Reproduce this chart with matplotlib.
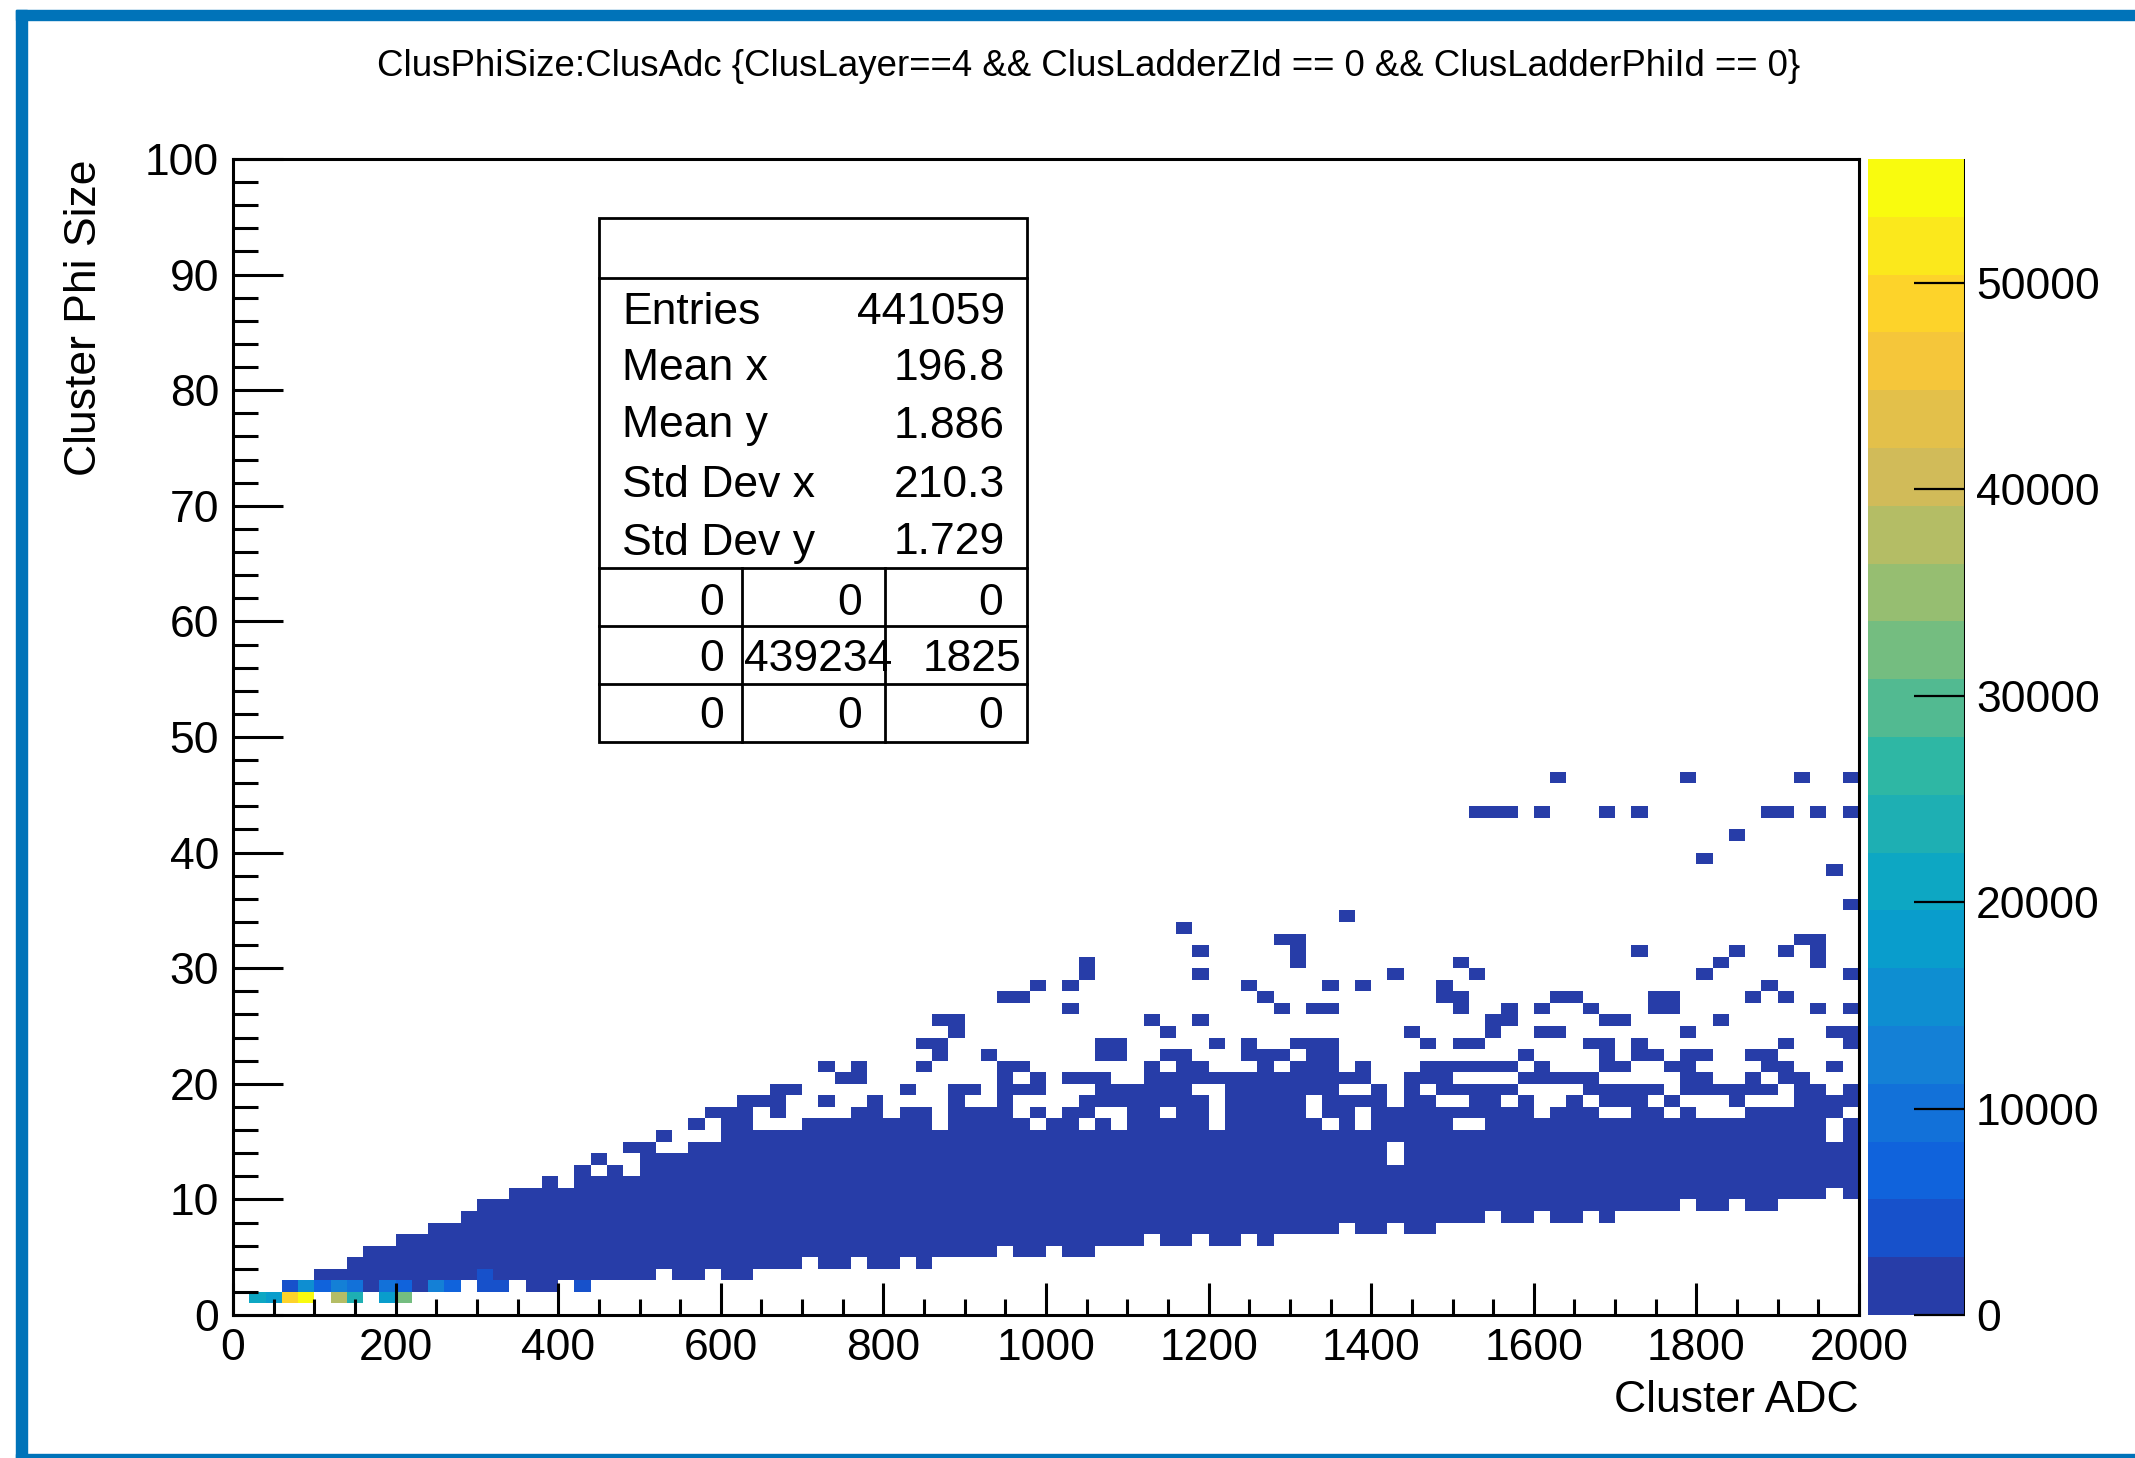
import numpy as np
import matplotlib
matplotlib.use("Agg")
import matplotlib.pyplot as plt
from matplotlib.colors import ListedColormap, BoundaryNorm, LinearSegmentedColormap
from matplotlib.patches import Rectangle
from matplotlib.lines import Line2D
from matplotlib.ticker import MultipleLocator, FuncFormatter

plt.rcParams["font.family"] = ["Liberation Sans", "DejaVu Sans"]

# ---------------------------------------------------------------- data
title = "ClusPhiSize:ClusAdc {ClusLayer==4 && ClusLadderZId == 0 && ClusLadderPhiId == 0}"
x_label = "Cluster ADC"
y_label = "Cluster Phi Size"

n_adc_bins, adc_min, adc_max = 100, 0, 2000
n_phi_bins, phi_min, phi_max = 100, 0, 100

# Occupied phi-size rows for every ADC bin (row index = phi-size bin)
occupied_rows = [
    "", "1", "1", "1-2", "1-2", "2-3", "1-3", "1-4", "2-5", "1-5",
    "1-6", "2-6", "2-7", "2-7", "3-8", "2-9", "2-9", "3-10", "2-10", "2-11",
    "3-10", "2-12", "3-11,13", "3-12", "3-11,14", "3-14", "4-13,15", "3-13", "3-14,16", "4-14,17",
    "3-17", "3-18", "4-15,18", "4-15,17-19", "4-15,19", "5-16", "4-16,18,21", "4-16,20", "5-17,20-21", "4-18",
    "4-16", "5-17,19", "4-17,21,23", "5-15,22-23,25", "5-19,24-25", "5-17,19", "5-17,22", "6-21,27", "5-16,19,21,27", "5-15,17,19-20,28",
    "6-16", "5-17,20,26,28", "5-15,17-18,20,29-30", "6-16,18-20,22-23", "6-15,18-19,22-23", "6-19", "7-21,25", "6-16,18-20,22,24", "6-22,33", "7-18,20-21,25,29,31",
    "6-15,20,23", "6-20", "7-20,22-23,28", "6-22,27", "7-20,22,26,32", "7-21,23,30-32", "7-16,19-23,26", "7-15,17-23,26,28", "8-18,20,34", "7-15,18,20-21,28",
    "7-19", "8-12,15-17,29", "7-20,24", "7-18,20-21,23", "8-17,19-21,27-28", "8-15,17,19,21,23,26-27,30", "8-15,17-19,21,23,29,43", "9-19,21,24-25,43", "8-17,19,21,25-26,43", "8-18,20,22",
    "9-16,20-21,24,26,43", "8-17,20,24,27,46", "8-18,20,27", "9-17,19-20,23,26", "8-16,18-19,21-23,25,43", "9-16,18-19,21,25", "9-19,22-23,31,43", "9-17,19,22,26-27", "9-16,18,21,26-27", "10-17,19-22,24,46",
    "9-16,19-20,22,29,39", "9-16,19,25,30", "10-16,18-19,31,41", "9-17,19-20,22,27", "9-17,19,21-22,28,43", "10-17,20-21,23,27,31,43", "10-20,32,46", "10-19,26,30-32,43", "11-14,17-18,21,24,38", "10-16,18-19,23-24,26,29,35,43,46",
]

# Bins whose content is above the lowest palette step
hot_adc_bin = [1, 2, 3, 4, 6, 7, 9, 10,
               3, 4, 5, 6, 7, 8, 9, 10, 11, 12, 13, 15, 16, 18, 19, 21,
               15]
hot_phi_row = [1, 1, 1, 1, 1, 1, 1, 1,
               2, 2, 2, 2, 2, 2, 2, 2, 2, 2, 2, 2, 2, 2, 2, 2,
               3]
hot_count = [21000, 18000, 49000, 56000, 37500, 25000, 19000, 32000,
             4000, 15000, 7000, 12000, 9500, 2000, 9000, 7000, 2000, 12500, 7500, 4500, 4000, 1500, 1500, 3500,
             3000]
low_count = 200  # occupied bins in the first palette step

# Statistics box
stat_names = ["Entries", "Mean x", "Mean y", "Std Dev x", "Std Dev y"]
stat_values = ["441059", "196.8", "1.886", "210.3", "1.729"]
under_overflow = [["0", "0", "0"], ["0", "439234", "1825"], ["0", "0", "0"]]

z_ticks = [0, 10000, 20000, 30000, 40000, 50000]
n_contours = 20

# ---------------------------------------------------------------- histogram
def parse_rows(spec):
    rows = []
    for part in spec.split(","):
        part = part.strip()
        if not part:
            continue
        if "-" in part:
            a, b = part.split("-")
            rows.extend(range(int(a), int(b) + 1))
        else:
            rows.append(int(part))
    return rows

counts = np.zeros((n_phi_bins, n_adc_bins))
for ix, spec in enumerate(occupied_rows):
    for iy in parse_rows(spec):
        counts[iy, ix] = low_count
for ix, iy, c in zip(hot_adc_bin, hot_phi_row, hot_count):
    counts[iy, ix] = c

adc_edges = np.linspace(adc_min, adc_max, n_adc_bins + 1)
phi_edges = np.linspace(phi_min, phi_max, n_phi_bins + 1)

# ROOT kBird palette, sampled at the contour levels
stops = [0.0, 0.125, 0.25, 0.375, 0.5, 0.625, 0.75, 0.875, 1.0]
red = [0.2082, 0.0592, 0.0780, 0.0232, 0.1802, 0.5301, 0.8186, 0.9956, 0.9764]
green = [0.1664, 0.3599, 0.5041, 0.6419, 0.7178, 0.7492, 0.7328, 0.7862, 0.9832]
blue = [0.5293, 0.8684, 0.8385, 0.7914, 0.6425, 0.4662, 0.3499, 0.1968, 0.0539]
bird = LinearSegmentedColormap.from_list(
    "bird", list(zip(stops, zip(red, green, blue))), N=255)
level_colors = [bird(int((i + 0.99) * 255 / n_contours) / 254.0) for i in range(n_contours)]
cmap = ListedColormap(level_colors)
cmap.set_bad("white")
zmax = counts.max()
norm = BoundaryNorm(np.linspace(0, zmax, n_contours + 1), n_contours)

# ---------------------------------------------------------------- figure
W, H = 2135, 1458
fig = plt.figure(figsize=(W / 100, H / 100), dpi=100)


def fx(px):
    return px / W


def fy(py):
    return 1 - py / H


# canvas frame
frame_col = "#0073b9"
fig.patches.append(Rectangle((fx(16), fy(1458)), fx(11), fy(10) - fy(1458),
                             transform=fig.transFigure, color=frame_col, zorder=0))
fig.patches.append(Rectangle((fx(16), fy(20)), 1, fy(10) - fy(20),
                             transform=fig.transFigure, color=frame_col, zorder=0))
fig.patches.append(Rectangle((fx(16), 0), 1, fy(1454),
                             transform=fig.transFigure, color=frame_col, zorder=0))

ax_l, ax_r, ax_t, ax_b = 233, 1859, 159, 1315
ax = fig.add_axes([fx(ax_l), fy(ax_b), fx(ax_r) - fx(ax_l), fy(ax_t) - fy(ax_b)])
mesh = ax.pcolormesh(adc_edges, phi_edges, np.ma.masked_equal(counts, 0),
                     cmap=cmap, norm=norm, antialiased=False, linewidth=0)
ax.set_xlim(adc_min, adc_max)
ax.set_ylim(phi_min, phi_max)

fs = 32
ax.xaxis.set_major_locator(MultipleLocator(200))
ax.xaxis.set_minor_locator(MultipleLocator(50))
ax.yaxis.set_major_locator(MultipleLocator(10))
ax.yaxis.set_minor_locator(MultipleLocator(2))
ax.tick_params(axis="x", which="major", direction="in", length=23, width=2.2,
               labelsize=fs, pad=9, top=False)
ax.tick_params(axis="x", which="minor", direction="in", length=11.5, width=2.2, top=False)
ax.tick_params(axis="y", which="major", direction="in", length=36, width=2.2,
               labelsize=fs, pad=10, right=False)
ax.tick_params(axis="y", which="minor", direction="in", length=18, width=2.2, right=False)
for s in ax.spines.values():
    s.set_linewidth(2.2)

fig.text(fx(ax_r), fy(1400), x_label, ha="right", va="center", fontsize=fs)
fig.text(fx(85), fy(ax_t), y_label, ha="center", va="top", rotation=90, fontsize=fs)
fig.text(fx(1089), fy(67), title, ha="center", va="center", fontsize=26.4)

# palette axis
cax = fig.add_axes([fx(1868), fy(ax_b), fx(1965) - fx(1868), fy(ax_t) - fy(ax_b)])
cb = fig.colorbar(mesh, cax=cax, ticks=z_ticks)
cb.outline.set_visible(False)
cax.add_line(Line2D([1, 1], [0, 1], transform=cax.transAxes, color="black", lw=2.2))
cax.yaxis.set_major_formatter(FuncFormatter(lambda v, p: f"{v:.0f}"))
cax.tick_params(axis="y", direction="in", length=37, width=1.6, labelsize=fs, pad=8,
                right=True, left=False, labelright=True)
cax.minorticks_off()

# statistics box
bl, br, bt, bb = 599, 1027, 218, 742
lw_box = 2.0
fig.patches.append(Rectangle((fx(bl), fy(bb)), fx(br) - fx(bl), fy(bt) - fy(bb),
                             transform=fig.transFigure, facecolor="white",
                             edgecolor="black", lw=lw_box, zorder=5))
for yy in [278, 568, 626, 684]:
    fig.add_artist(Line2D([fx(bl), fx(br)], [fy(yy), fy(yy)], transform=fig.transFigure,
                          color="black", lw=lw_box, zorder=6))
for xx in [742, 885]:
    fig.add_artist(Line2D([fx(xx), fx(xx)], [fy(568), fy(bb)], transform=fig.transFigure,
                          color="black", lw=lw_box, zorder=6))
stat_rows_y = [312, 369, 426, 486, 543]
for name, val, yy in zip(stat_names, stat_values, stat_rows_y):
    fig.text(fx(622), fy(yy), name, ha="left", va="center", fontsize=fs, zorder=7)
    fig.text(fx(1005), fy(yy), val, ha="right", va="center", fontsize=fs, zorder=7)
table_x = [[712, 850, 991], [712, 818, 972], [712, 850, 991]]
table_y = [603, 660, 717]
for r in range(3):
    for c in range(3):
        fig.text(fx(table_x[r][c]), fy(table_y[r]), under_overflow[r][c],
                 ha="center", va="center", fontsize=fs, zorder=7)

fig.savefig("out.png", dpi=100)
